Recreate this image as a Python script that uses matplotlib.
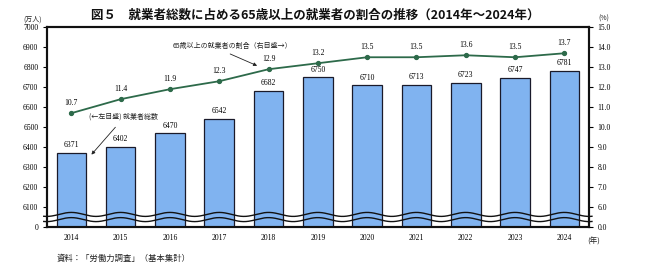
import numpy as np
import matplotlib
matplotlib.use("Agg")
import matplotlib.pyplot as plt

plt.rcParams['font.family'] = ['Noto Sans CJK JP', 'DejaVu Sans']

years = ["2014", "2015", "2016", "2017", "2018", "2019", "2020", "2021", "2022", "2023", "2024"]
workers = [6371, 6402, 6470, 6542, 6682, 6750, 6710, 6713, 6723, 6747, 6781]
share65 = [10.7, 11.4, 11.9, 12.3, 12.9, 13.2, 13.5, 13.5, 13.6, 13.5, 13.7]
left_ticks = [6000, 6100, 6200, 6300, 6400, 6500, 6600, 6700, 6800, 6900, 7000]
left_labels = ["0", "6100", "6200", "6300", "6400", "6500", "6600", "6700", "6800", "6900", "7000"]
right_ticks = [5, 6, 7, 8, 9, 10, 11, 12, 13, 14, 15]
right_labels = ["0.0", "6.0", "7.0", "8.0", "9.0", "10.0", "11.0", "12.0", "13.0", "14.0", "15.0"]

numfont = dict(family=['Liberation Serif', 'Noto Sans CJK JP'], fontsize=5.5)

fig = plt.figure(figsize=(6.5, 2.66), dpi=100)
ax = fig.add_axes([46.7/650, 1-227/266, (589-46.7)/650, (227-27.3)/266])
x = np.arange(len(years))

bars = ax.bar(x, workers, width=0.6, color='#80b3f0', edgecolor='#1a1a2a', linewidth=0.9, zorder=2)
ax.set_xlim(-0.5, len(years)-0.5)
ax.set_ylim(6000, 7000)
ax.set_yticks(left_ticks)
ax.set_yticklabels(left_labels, **numfont)
ax.set_xticks(x)
ax.set_xticklabels(years, **numfont)
ax.tick_params(axis='x', length=0, pad=5)
ax.tick_params(axis='y', length=3, width=0.8, direction='out', pad=3)
for s in ax.spines.values():
    s.set_linewidth(1.5)
    s.set_color('#111111')

for xi, v in zip(x, workers):
    ax.text(xi, v + 18, str(v), ha='center', va='bottom', **numfont)

ax2 = ax.twinx()
ax2.set_ylim(5, 15)
ax2.set_yticks(right_ticks)
ax2.set_yticklabels(right_labels, **numfont)
ax2.tick_params(axis='y', length=3, width=0.8, direction='out', pad=3)
for s in ax2.spines.values():
    s.set_linewidth(1.5)
    s.set_color('#111111')
ax2.plot(x, share65, color='#2d6a4a', lw=1.3, marker='o', ms=2.8, zorder=3)
for xi, v in zip(x, share65):
    ax2.text(xi, v + 0.3, f"{v:.1f}", ha='center', va='bottom', **numfont)

# axis break waves
xw = np.linspace(-0.56, len(years)-0.44, 600)
for base in (6063, 6037):
    ax.plot(xw, base + 10*np.cos(2*np.pi*xw), color='#111111', lw=1.0, clip_on=False, zorder=4)

# annotations
ax.annotate("", xy=(3.82, 6802), xytext=(3.17, 6872),
            arrowprops=dict(arrowstyle='-|>', color='#222222', lw=0.6, mutation_scale=5), zorder=5)
ax.text(2.06, 6905, "65歳以上の就業者の割合（右目盛→）", fontsize=5, ha='left', va='center', color='#222222')
ax.annotate("", xy=(0.37, 6352), xytext=(0.93, 6510),
            arrowprops=dict(arrowstyle='-|>', color='#222222', lw=0.6, mutation_scale=5), zorder=5)
ax.text(0.36, 6555, "(←左目盛) 就業者総数", fontsize=5, ha='left', va='center', color='#222222')

fig.text(315/650, 1-15/266, "図５　就業者総数に占める65歳以上の就業者の割合の推移（2014年～2024年）",
         fontsize=9, fontweight='bold', ha='center', va='center', color='#111111')
fig.text(33/650, 1-20/266, "(万人)", fontsize=5, ha='center', va='center', color='#222222')
fig.text(604/650, 1-19/266, "(%)", fontsize=5, ha='center', va='center', color='#222222')
fig.text(594/650, 1-242/266, "(年)", fontsize=5.5, ha='center', va='center', color='#222222')
fig.text(57/650, 1-258/266, "資料：「労働力調査」（基本集計）", fontsize=6, ha='left', va='center', color='#222222')

fig.savefig("out.png", dpi=100)
